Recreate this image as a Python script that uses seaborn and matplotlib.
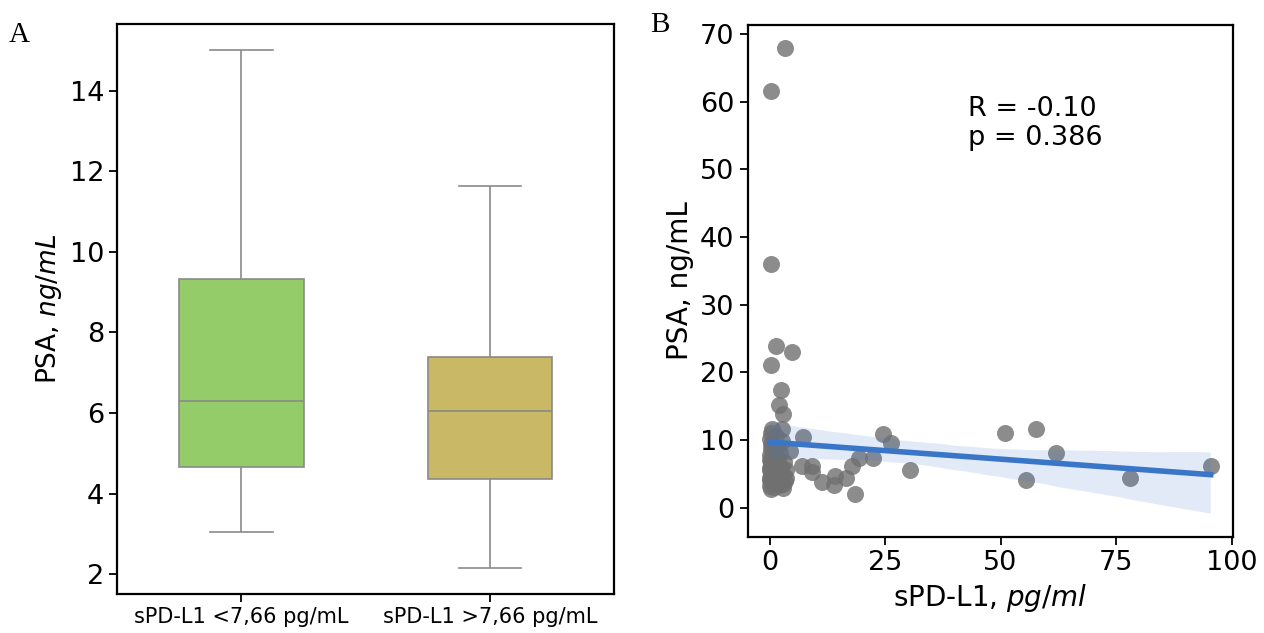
import numpy as np
import pandas as pd
import matplotlib
matplotlib.use("Agg")
import matplotlib.pyplot as plt
import seaborn as sns

# Panel A: box plot values (min, Q1, median, Q3, max per group)
group_labels = ["sPD-L1 <7,66 pg/mL", "sPD-L1 >7,66 pg/mL"]
low_group_psa = [3.05, 4.67, 6.30, 9.33, 15.0]
high_group_psa = [2.15, 4.37, 6.05, 7.38, 11.63]
box_colors = ["#93cc68", "#c9b866"]

# Panel B: scatter points (sPD-L1 pg/ml, PSA ng/mL)
spdl1 = [3.4, 0.4, 0.4, 1.4, 4.9, 0.4, 2.5, 2.1, 2.9,
         0.5, 2.7, 7.3, 24.5, 26.3, 30.3, 51.0, 57.7, 61.9, 55.6, 78.0, 95.5,
         22.3, 19.4, 17.8, 16.6, 14.2, 14.0, 11.3, 18.5, 9.2, 9.2, 7.0, 4.5,
         0.0, 0.1, 0.2, 0.0, 0.3, 0.1, 0.0, 0.4, 0.2, 0.0,
         0.5, 0.6, 0.3, 0.0, 0.8, 1.0, 1.2, 0.9, 1.5, 1.1,
         1.8, 1.4, 2.0, 2.2, 1.7, 2.5, 2.8, 2.4, 3.0, 3.3,
         3.5, 3.1, 2.6, 0.2, 1.3, 0.7, 1.9, 3.6, 2.9, 0.4,
         1.6, 0.1, 2.3, 0.5, 1.0]
psa = [67.9, 61.5, 36.0, 23.9, 23.0, 21.0, 17.3, 15.1, 13.8,
       11.6, 11.6, 10.4, 10.8, 9.6, 5.6, 11.0, 11.6, 8.1, 4.1, 4.4, 6.1,
       7.3, 7.3, 6.1, 4.4, 4.7, 3.3, 3.8, 2.0, 6.1, 5.2, 6.1, 8.4,
       3.2, 4.0, 4.8, 5.5, 6.2, 7.0, 7.8, 8.6, 9.4, 10.2,
       3.6, 5.0, 6.8, 4.4, 5.8, 3.0, 4.2, 6.5, 3.8, 7.5,
       4.6, 5.4, 3.3, 5.0, 8.9, 4.1, 3.5, 6.0, 4.8, 3.9,
       5.6, 6.7, 9.8, 11.0, 10.6, 9.0, 7.2, 4.4, 2.9, 2.8,
       6.0, 5.9, 8.0, 7.4, 4.7]
stats_text = "R = -0.10\np = 0.386"

box_df = pd.DataFrame({
    "group": [group_labels[0]] * len(low_group_psa) + [group_labels[1]] * len(high_group_psa),
    "psa": low_group_psa + high_group_psa,
})
scatter_df = pd.DataFrame({"spdl1": spdl1, "psa": psa})

plt.rcParams["axes.linewidth"] = 1.6
plt.rcParams["xtick.major.size"] = 6
plt.rcParams["ytick.major.size"] = 6
plt.rcParams["xtick.major.width"] = 1.3
plt.rcParams["ytick.major.width"] = 1.3
plt.rcParams["mathtext.fontset"] = "dejavusans"

fig = plt.figure(figsize=(12.64, 6.33), dpi=100)
ax1 = fig.add_axes([0.0928, 0.0616, 0.393, 0.900])
ax2 = fig.add_axes([0.5914, 0.1517, 0.3839, 0.809])

# Panel A
sns.boxplot(data=box_df, x="group", y="psa", hue="group", palette=box_colors,
            saturation=1, width=0.5, linecolor="#8a8a8a", linewidth=1.2,
            legend=False, ax=ax1)
ax1.set_xlabel("")
ax1.set_ylabel("PSA, $\\it{ng/mL}$", fontsize=19)
ax1.set_yticks([2, 4, 6, 8, 10, 12, 14])
ax1.tick_params(axis="y", labelsize=19.5)
ax1.tick_params(axis="x", labelsize=15)

# Panel B
sns.regplot(data=scatter_df, x="spdl1", y="psa", ax=ax2, seed=0,
            scatter_kws={"color": "#707070", "s": 150, "alpha": 0.8, "linewidths": 0},
            line_kws={"color": "#3a76c8", "lw": 4})
ax2.set_xticks([0, 25, 50, 75, 100])
ax2.set_yticks([0, 10, 20, 30, 40, 50, 60, 70])
ax2.tick_params(labelsize=19.5)
ax2.set_xlabel("sPD-L1, $\\it{pg/ml}$", fontsize=20)
ax2.set_ylabel("PSA, ng/mL", fontsize=20)
ax2.text(0.454, 0.862, stats_text, transform=ax2.transAxes, fontsize=19.5,
         va="top", ha="left", linespacing=1.15)

fig.text(0.007, 0.934, "A", family="Liberation Serif", fontsize=21)
fig.text(0.514, 0.950, "B", family="Liberation Serif", fontsize=21)

fig.savefig("out.png", dpi=100)
